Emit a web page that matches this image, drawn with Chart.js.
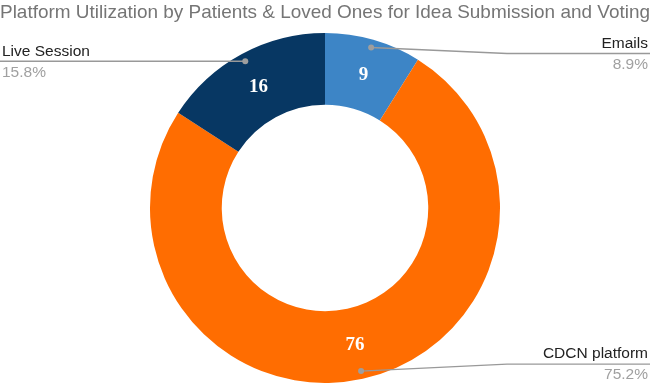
<!doctype html>
<html lang="en">
	<head>
		<meta charset="utf-8">
		<title>Platform Utilization</title>
		<script src="https://cdn.jsdelivr.net/npm/chart.js"></script>
		<style>
			html, body { margin: 0; padding: 0; background: #fff; }
			#wrap { position: relative; width: 650px; height: 383px; }
		</style>
	</head>
	<body>
		<div id="wrap"><canvas id="pie"></canvas></div>
		<script>
			// data
			var labels = ['Emails', 'CDCN platform', 'Live Session'];
			var counts = [9, 76, 16];
			var sliceColors = ['#3d85c6', '#ff6d01', '#073763'];

			// draws the white counts inside slices and the outside callouts
			const calloutPlugin = {
				id: 'callouts',
				afterDatasetsDraw(chart, args, opts) {
					const ctx = chart.ctx;
					const meta = chart.getDatasetMeta(0);
					const total = counts.reduce((a, b) => a + b, 0);
					meta.data.forEach((arc, i) => {
						const p = arc.getProps(['x', 'y', 'startAngle', 'endAngle', 'innerRadius', 'outerRadius'], true);
						const mid = (p.startAngle + p.endAngle) / 2;
						const rMid = (p.innerRadius + p.outerRadius) / 2;

						// value in slice
						ctx.save();
						ctx.fillStyle = '#ffffff';
						ctx.font = 'bold 19px "Liberation Serif"';
						ctx.textAlign = 'center';
						ctx.textBaseline = 'middle';
						ctx.fillText(counts[i], p.x + Math.cos(mid) * rMid, p.y + Math.sin(mid) * rMid + 1);
						ctx.restore();

						// leader line with dot
						const rDot = p.outerRadius - 8;
						const dx = p.x + Math.cos(mid) * rDot;
						const dy = p.y + Math.sin(mid) * rDot;
						const right = Math.cos(mid) >= 0;
						const lineY = dy + opts.shift[i];
						const edge = right ? chart.width : 0;
						const elbow = right ? 507 : dx;

						ctx.save();
						ctx.strokeStyle = '#999999';
						ctx.lineWidth = 1.3;
						ctx.beginPath();
						ctx.moveTo(dx, dy);
						ctx.lineTo(elbow, lineY);
						ctx.lineTo(edge, lineY);
						ctx.stroke();
						ctx.fillStyle = '#9e9e9e';
						ctx.beginPath();
						ctx.arc(dx, dy, 3, 0, Math.PI * 2);
						ctx.fill();

						ctx.textAlign = right ? 'right' : 'left';
						ctx.textBaseline = 'middle';
						const tx = right ? chart.width - 2 : 2;
						ctx.font = '15.5px "Liberation Sans"';
						ctx.fillStyle = '#222222';
						ctx.fillText(labels[i], tx, lineY - 10);
						ctx.fillStyle = '#a0a0a0';
						ctx.fillText((counts[i] / total * 100).toFixed(1) + '%', tx, lineY + 11);
						ctx.restore();
					});
				}
			};

			new Chart(document.getElementById('pie'), {
				type: 'doughnut',
				data: {
					labels: labels,
					datasets: [{
						data: counts,
						backgroundColor: sliceColors,
						borderWidth: 0
					}]
				},
				options: {
					responsive: true,
					maintainAspectRatio: false,
					animation: false,
					cutout: '59%',
					layout: { padding: 0 },
					plugins: {
						legend: { display: false },
						tooltip: { enabled: false },
						title: {
							display: true,
							text: 'Platform Utilization by Patients & Loved Ones for Idea Submission and Voting',
							align: 'start',
							color: '#757575',
							font: { family: 'Liberation Sans', size: 19, weight: 'normal' },
							padding: { top: 1, bottom: 9.2 }
						},
						callouts: { shift: [6, -7, 0] }
					}
				},
				plugins: [calloutPlugin]
			});
		</script>
	</body>
</html>
